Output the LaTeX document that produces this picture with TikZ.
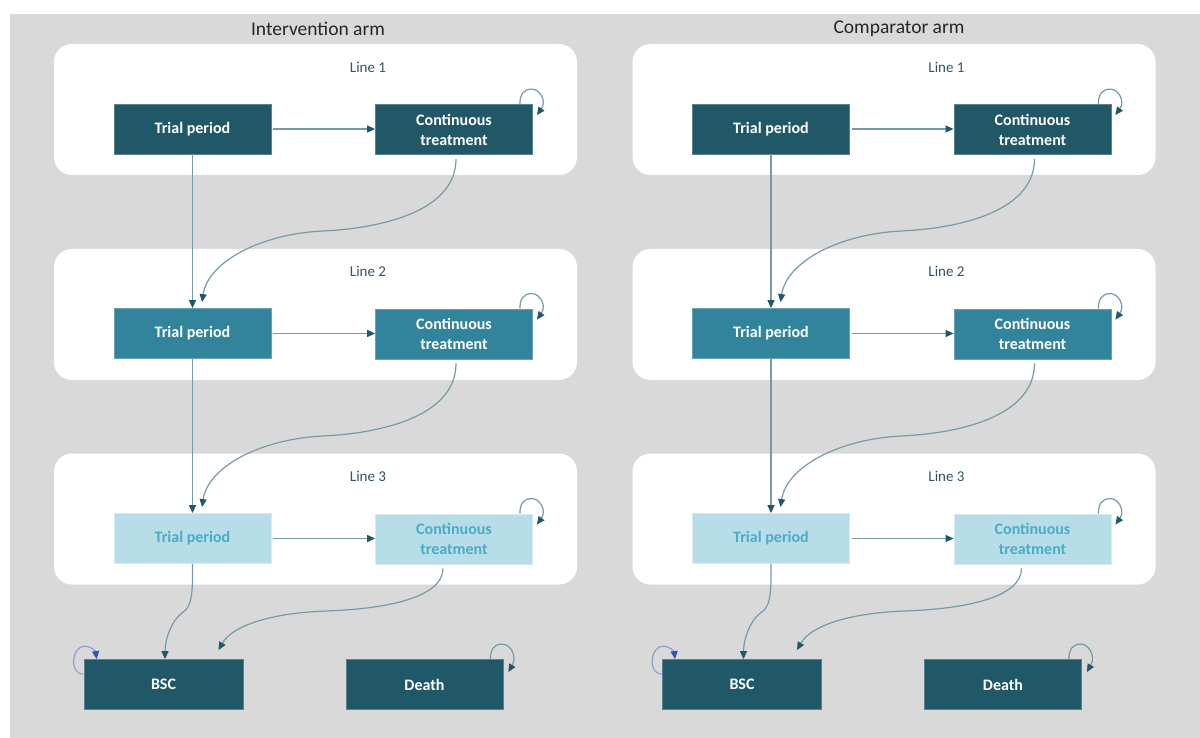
\documentclass[tikz,border=0pt]{standalone}
\usepackage{fontspec}
\setmainfont{Carlito}
\usetikzlibrary{arrows.meta,calc}
\definecolor{bgc}{RGB}{217,217,217}
\definecolor{dk}{RGB}{33,88,103}
\definecolor{md}{RGB}{49,132,155}
\definecolor{lt}{RGB}{183,222,232}
\definecolor{ltt}{RGB}{75,172,198}
\definecolor{labc}{RGB}{52,82,96}
\definecolor{titc}{RGB}{38,38,38}
\definecolor{linec}{RGB}{118,154,166}
\definecolor{bluel}{RGB}{140,160,205}
\definecolor{blueh}{RGB}{47,84,180}
\tikzset{
  panel/.style={rectangle, fill=white, rounded corners=18pt, minimum width=523pt, minimum height=131pt, inner sep=0pt},
  box/.style={rectangle, minimum width=157pt, minimum height=50pt, inner sep=0pt, align=center, text=white,
    font=\fontsize{16}{20}\selectfont\bfseries, line width=0.8pt},
  lvone/.style={box, fill=dk, draw=dk!75!white},
  lvtwo/.style={box, fill=md, draw=md!75!white},
  lvthree/.style={box, fill=lt, draw=lt!60!white, text=ltt},
  linelab/.style={font=\fontsize{15}{18}\selectfont, text=labc, inner sep=0pt},
  armtitle/.style={font=\fontsize{19.5}{22}\selectfont, text=titc, inner sep=0pt},
  conn/.style={draw=linec, line width=1.2pt, -{Triangle[length=8pt,width=7pt,color=dk]}},
  bconn/.style={draw=bluel, line width=1.2pt, -{Triangle[length=8pt,width=7pt,color=blueh]}}
}
\newcommand\selfloop[3]{% style, node, end offset
  \draw[#1] ($(#2.north east)+(-13,0)$) .. controls ($(#2.north east)+(-13,-9)$) and ($(#2.north east)+(-10,-15)$) .. ($(#2.north east)+(-1,-15)$)
    .. controls ($(#2.north east)+(7,-15)$) and ($(#2.north east)+(14,-3)$) .. ($(#2.north east)+#3$);
}
\newcommand\armbody{%
  \node[panel] (P1) at (315.5,109.5) {};
  \node[panel] (P2) at (315.5,314.5) {};
  \node[panel] (P3) at (315.5,519) {};
  \node[linelab] (L1) at (368,67) {Line 1};
  \node[linelab] (L2) at (368,271) {Line 2};
  \node[linelab] (L3) at (368,476) {Line 3};
  \node[lvone] (TP1) at (192.5,129) {Trial period};
  \node[lvone] (CT1) at (454,129.5) {Continuous\\treatment};
  \node[lvtwo] (TP2) at (192.5,333.5) {Trial period};
  \node[lvtwo] (CT2) at (454,334) {Continuous\\treatment};
  \node[lvthree] (TP3) at (192.5,538.5) {Trial period};
  \node[lvthree] (CT3) at (454,539) {Continuous\\treatment};
  \node[lvone, minimum width=159pt] (BSC) at (163.5,684.5) {BSC};
  \node[lvone] (DTH) at (424.5,684.5) {Death};
  % horizontal
  \draw[conn, shorten <=2pt] (TP1.east) -- (TP1.east -| CT1.west);
  \draw[conn, shorten <=2pt] (TP2.east) -- (TP2.east -| CT2.west);
  \draw[conn, shorten <=2pt] (TP3.east) -- (TP3.east -| CT3.west);
  % vertical
  \draw[conn] (TP1.south) -- (TP2.north);
  \draw[conn] (TP2.south) -- (TP3.north);
  % curves cont -> next trial
  \draw[conn] ([xshift=2pt,yshift=-4pt]CT1.south) .. controls (456,210) and (385,228) .. (323,231)
     .. controls (260,234) and (208,262) .. ([xshift=9.5pt,yshift=6pt]TP2.north);
  \draw[conn] ([xshift=2pt,yshift=-4pt]CT2.south) .. controls (456,415) and (385,433) .. (323,436)
     .. controls (260,439) and (208,467) .. ([xshift=9.5pt,yshift=6pt]TP3.north);
  % to BSC
  \draw[conn] (TP3.south) .. controls (193,598) and (191,607) .. (182,613)
     .. controls (171,621) and (165,640) .. ([xshift=1.5pt]BSC.north);
  \draw[conn] ([xshift=-11pt,yshift=-4pt]CT3.south) .. controls (443,598) and (385,609) .. (326,611)
     .. controls (270,613) and (232,626) .. ([xshift=55pt,yshift=9pt]BSC.north);
  % self loops
  \selfloop{conn}{CT1}{(4,11)}
  \selfloop{conn}{CT2}{(4,11)}
  \selfloop{conn}{CT3}{(4,11)}
  \selfloop{conn}{DTH}{(5,13)}
  \draw[bconn] ($(BSC.north west)+(0,15)$) .. controls ($(BSC.north west)+(-15,15)$) and ($(BSC.north west)+(-12,-13)$) .. ($(BSC.north west)+(1,-13)$)
    .. controls ($(BSC.north west)+(7,-13)$) and ($(BSC.north west)+(12,-8)$) .. ($(BSC.north west)+(13,0)$);
}
\begin{document}
\begin{tikzpicture}[x=1pt,y=-1pt]
\useasboundingbox (0,0) rectangle (1200,738);
\fill[white] (0,0) rectangle (1200,738);
\fill[bgc] (10,14) rectangle (1200,738);
\node[armtitle] (T1) at (318,29) {Intervention arm};
\node[armtitle] (T2) at (899,29) {Comparator arm};
\begin{scope}[name prefix=L-]
\armbody
\end{scope}
\begin{scope}[xshift=578.5pt, name prefix=R-]
\armbody
\end{scope}
\end{tikzpicture}
\end{document}
